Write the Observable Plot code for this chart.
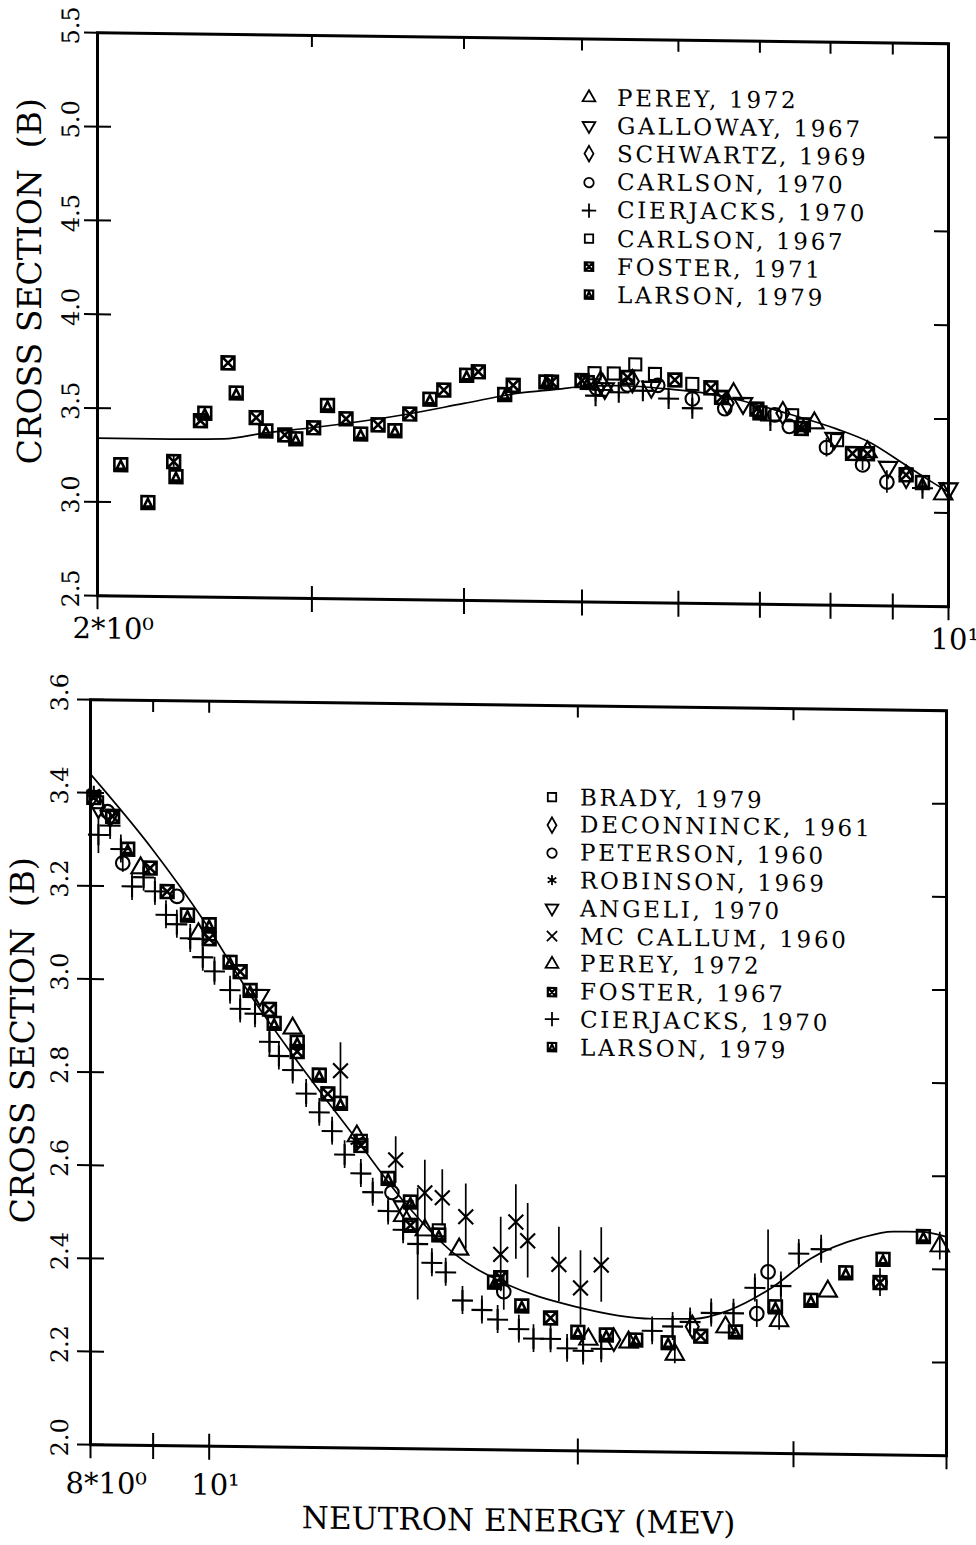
<!DOCTYPE html>
<html><head><meta charset="utf-8">
<script src="https://cdn.jsdelivr.net/npm/d3@7"></script>
<script src="https://cdn.jsdelivr.net/npm/@observablehq/plot@0.6"></script>
<style>
body{margin:0;background:#fff;}
#page{position:relative;width:976px;height:1545px;font-family:"DejaVu Serif",serif;transform:skewY(0.74deg);transform-origin:0 0;overflow:visible;}
.panel{position:absolute;left:0;}
.leg{position:absolute;height:26px;display:flex;align-items:center;white-space:pre;font-size:23px;line-height:1;letter-spacing:2.7px;color:#000;}
.leg span{margin-left:20px;}
</style></head><body><div id="page"></div>
<script>
// ---------------- TOP PANEL DATA (energy MeV, cross section b, error) ----------------
const topLegend = ["PEREY, 1972","GALLOWAY, 1967","SCHWARTZ, 1969","CARLSON, 1970","CIERJACKS, 1970","CARLSON, 1967","FOSTER, 1971","LARSON, 1979"];
const topPerey = [[5.20,3.66],[6.66,3.62],[7.76,3.47],[8.58,3.32],[9.90,3.10]];
const topGalloway = [[5.22,3.64],[5.70,3.65],[6.78,3.57],[8.06,3.39],[8.92,3.24],[10.0,3.13]];
const topSchwartz = [[5.18,3.67],[5.50,3.68],[6.58,3.57],[7.31,3.52],[9.23,3.19]];
const topCarlson70 = [[5.14,3.64],[5.45,3.66],[5.77,3.66],[6.16,3.59,0.03],[6.55,3.54],[7.20,3.51],[7.40,3.45],[7.94,3.34,0.05],[8.50,3.25,0.03],[8.90,3.16,0.06]];
const topCierjacks = [[5.13,3.60,0.03],[5.36,3.62,0.03],[5.61,3.63,0.03],[5.89,3.59,0.03],[6.16,3.54,0.03],[7.14,3.48,0.03],[9.52,3.13,0.03]];
const topCarlson67 = [[5.12,3.72],[5.31,3.72],[5.53,3.77],[5.74,3.72],[6.16,3.67],[7.44,3.51],[8.10,3.38]];
const topFoster = [[2.31,3.22,0.03],[2.43,3.44],[2.56,3.75],[2.70,3.46],[2.85,3.37],[3.01,3.41],[3.20,3.46],[3.40,3.43],[3.61,3.49],[3.85,3.62],[4.11,3.72],[4.39,3.65],[4.72,3.67],[5.00,3.68],[5.45,3.70],[5.96,3.69],[6.38,3.65],[6.51,3.60],[6.96,3.54],[7.57,3.44],[8.34,3.31],[8.58,3.31],[9.23,3.20]];
const topLarson = [[2.09,3.20],[2.20,3.00],[2.32,3.14],[2.45,3.48],[2.60,3.59],[2.75,3.39],[2.91,3.35],[3.09,3.53],[3.29,3.38],[3.51,3.40],[3.75,3.57],[4.02,3.70],[4.32,3.60],[4.67,3.67],[5.05,3.67],[7.00,3.52],[7.60,3.46],[9.52,3.16]];
const topCurveE = [2,2.3,2.54,2.75,3.0,3.6,4.0,4.45,4.74,5.05,5.38,5.91,6.25,6.7,7.36,8.09,8.62,9.18,9.6,10];
const topCurveS = [3.34,3.34,3.345,3.38,3.41,3.49,3.55,3.61,3.63,3.65,3.655,3.64,3.625,3.59,3.52,3.44,3.37,3.26,3.18,3.11];
const topXTicks = [2,3,4,5,6,7,8,9,10];
const topXLabels = [[2,"2*10⁰"],[10,"10¹"]];
const topYTicks = [2.5,3.0,3.5,4.0,4.5,5.0,5.5];
const topYLabels = ["2.5","3.0","3.5","4.0","4.5","5.0","5.5"];

// ---------------- BOTTOM PANEL DATA ----------------
const botLegend = ["BRADY, 1979","DECONNINCK, 1961","PETERSON, 1960","ROBINSON, 1969","ANGELI, 1970","MC CALLUM, 1960","PEREY, 1972","FOSTER, 1967","CIERJACKS, 1970","LARSON, 1979"];
const botBrady = [[8.10,3.38],[10.0,3.10],[13.3,2.66],[15.4,2.47]];
const botDeconninck = [[8.12,3.37],[21.4,2.24],[24.8,2.27]];
const botPeterson = [[8.26,3.36],[8.50,3.25,0.02],[9.41,3.18],[14.1,2.55],[17.4,2.34,0.04],[28.0,2.30,0.03],[28.6,2.39,0.09],[35.3,2.37,0.03]];
const botRobinson = [[8.05,3.40],[13.2,2.66]];
const botAngeli = [[8.30,3.35],[11.0,2.97],[14.4,2.52]];
const botMcCallum = [[12.8,2.81,0.06],[14.2,2.62,0.05],[15.0,2.55,0.07],[15.5,2.54,0.06],[16.2,2.50,0.07],[17.3,2.42,0.08],[17.8,2.49,0.08],[18.2,2.45,0.08],[19.3,2.40,0.08],[20.1,2.35,0.08],[20.9,2.40,0.08]];
const botPerey = [[8.79,3.24],[9.80,3.10],[11.7,2.90],[13.2,2.67],[14.4,2.50],[15.0,2.47],[16.0,2.43],[20.4,2.24],[22.0,2.235],[24.0,2.21,0.02],[26.4,2.27],[29.2,2.285,0.02],[32.0,2.35],[39.5,2.45,0.03]];
const botFoster = [[8.05,3.39],[8.34,3.35],[8.95,3.24],[9.24,3.19],[10.0,3.09],[10.6,3.02],[11.2,2.94],[11.8,2.85],[12.5,2.76],[13.3,2.65],[14.6,2.48],[17.3,2.37],[19.0,2.285],[25.2,2.25],[35.3,2.37]];
const botCierjacks = [[8.12,3.31,0.04],[8.30,3.33,0.03],[8.47,3.28,0.03],[8.65,3.20,0.03],[8.84,3.22,0.03],[9.03,3.19,0.03],[9.22,3.14,0.03],[9.41,3.12,0.03],[9.65,3.09,0.03],[9.88,3.05,0.03],[10.1,3.02,0.03],[10.4,2.98,0.03],[10.6,2.94,0.03],[10.9,2.93,0.03],[11.2,2.87,0.03],[11.4,2.84,0.03],[11.7,2.81,0.03],[12.0,2.76,0.03],[12.3,2.72,0.03],[12.6,2.68,0.03],[12.9,2.63,0.03],[13.3,2.59,0.03],[13.6,2.55,0.03],[14.0,2.51,0.03],[14.4,2.47,0.03],[14.8,2.44,0.12],[15.2,2.40,0.03],[15.6,2.38,0.03],[16.1,2.32,0.03],[16.7,2.30,0.03],[17.2,2.28,0.03],[17.9,2.26,0.03],[18.4,2.24,0.03],[19.0,2.24,0.03],[19.6,2.22,0.03],[20.2,2.215,0.03],[20.9,2.22,0.03],[23.0,2.26,0.03],[23.9,2.27,0.03],[24.7,2.28,0.03],[25.7,2.30,0.03],[26.8,2.30,0.03],[27.9,2.355,0.03],[29.3,2.36,0.03],[30.3,2.43,0.03],[31.6,2.44,0.03]];
const botLarson = [[8.58,3.28],[9.60,3.14],[10.0,3.12],[10.4,3.04],[10.8,2.98],[11.3,2.91],[11.8,2.87],[12.3,2.80],[12.8,2.74],[14.0,2.58],[14.6,2.53],[15.4,2.46],[17.1,2.36],[18.0,2.31],[20.0,2.255],[21.1,2.25],[22.3,2.24],[23.7,2.235],[26.9,2.26],[29.0,2.315],[31.0,2.33],[33.1,2.39],[35.5,2.42],[38.3,2.47]];
const botCurveE = [8,8.99,9.89,10.87,11.72,13.13,14.43,15.86,17.36,19.9,23.0,24.9,26.5,28.8,31.0,34.1,36.2,38.1,40];
const botCurveS = [3.44,3.28,3.13,2.96,2.84,2.67,2.53,2.42,2.36,2.31,2.286,2.287,2.305,2.356,2.42,2.466,2.48,2.48,2.47];
const botXTicks = [8,9,10,20,30,40];
const botXLabels = [[8,"8*10⁰"],[10,"10¹"]];
const botYTicks = [2.0,2.2,2.4,2.6,2.8,3.0,3.2,3.4,3.6];
const botYLabels = ["2.0","2.2","2.4","2.6","2.8","3.0","3.2","3.4","3.6"];

const yTitle = "CROSS SECTION\u00a0\u00a0(B)";
const xTitle = "NEUTRON ENERGY (MEV)";

// ---------------- SYMBOLS ----------------
const sqrt3 = Math.sqrt(3);
const triangleDown = {draw(c, size){const y = -Math.sqrt(size/(sqrt3*3)); c.moveTo(0,-2*y); c.lineTo(-sqrt3*y,y); c.lineTo(sqrt3*y,y); c.closePath();}};
function sq(c,r){c.moveTo(-r,-r);c.lineTo(r,-r);c.lineTo(r,r);c.lineTo(-r,r);c.closePath();}
const squareX = {draw(c,size){const r=Math.sqrt(size)/2; sq(c,r); c.moveTo(-r,-r);c.lineTo(r,r);c.moveTo(r,-r);c.lineTo(-r,r);}};
const squareTri = {draw(c,size){const r=Math.sqrt(size)/2; sq(c,r); const t=r*0.62; c.moveTo(-t,t);c.lineTo(0,-t);c.lineTo(t,t);c.closePath();}};

const topSeries = [
  {data: topPerey, symbol: d3.symbolTriangle},
  {data: topGalloway, symbol: triangleDown},
  {data: topSchwartz, symbol: d3.symbolDiamond},
  {data: topCarlson70, symbol: d3.symbolCircle},
  {data: topCierjacks, symbol: d3.symbolPlus},
  {data: topCarlson67, symbol: d3.symbolSquare},
  {data: topFoster, symbol: squareX, heavy: true},
  {data: topLarson, symbol: squareTri, heavy: true}
];
const botSeries = [
  {data: botBrady, symbol: d3.symbolSquare},
  {data: botDeconninck, symbol: d3.symbolDiamond},
  {data: botPeterson, symbol: d3.symbolCircle},
  {data: botRobinson, symbol: d3.symbolAsterisk},
  {data: botAngeli, symbol: triangleDown},
  {data: botMcCallum, symbol: d3.symbolTimes},
  {data: botPerey, symbol: d3.symbolTriangle},
  {data: botFoster, symbol: squareX, heavy: true},
  {data: botCierjacks, symbol: d3.symbolPlus},
  {data: botLarson, symbol: squareTri, heavy: true}
];

function makePanel(cfg){
  const W = 976 - cfg.ml - cfg.mr, H = cfg.height - cfg.mt - cfg.mb;
  const marks = [];
  marks.push(Plot.line(cfg.curveE.map((e,i)=>[e,cfg.curveS[i]]), {x:d=>d[0], y:d=>d[1], curve:"monotone-x", strokeWidth:1.7}));
  for (const s of cfg.series){
    const err = s.data.filter(d=>d[2]);
    if (err.length) marks.push(Plot.ruleX(err, {x:d=>d[0], y1:d=>d[1]-d[2], y2:d=>d[1]+d[2], strokeWidth:1.7}));
    marks.push(Plot.dot(s.data, {x:d=>d[0], y:d=>d[1], symbol:s.symbol, r:s.heavy ? 7.2 : 6.8, stroke:"black", strokeWidth:s.heavy ? 2.6 : 2.1, fill:"none"}));
  }
  marks.push(Plot.frame({strokeWidth:3}));
  marks.push(Plot.tickY(cfg.yTicks, {y:d=>d, insetLeft:-13, insetRight:W-14, strokeWidth:2}));
  marks.push(Plot.tickY(cfg.yTicks, {y:d=>d, insetLeft:W-14, strokeWidth:2}));
  marks.push(Plot.tickX(cfg.xTicks, {x:d=>d, insetBottom:H-12, strokeWidth:2}));
  marks.push(Plot.tickX(cfg.xTicks, {x:d=>d, insetTop:H-12, insetBottom:-14, strokeWidth:2}));
  marks.push(Plot.text(cfg.yTicks, {y:d=>d, text:(d,i)=>cfg.yLabels[i], frameAnchor:"left", dx:cfg.yLabelDx, dy:-7, rotate:-90, fontSize:24, textAnchor:"middle"}));
  marks.push(Plot.text(cfg.xLabels, {x:d=>d[0], text:d=>d[1], frameAnchor:"bottom", lineAnchor:"top", dy:cfg.xLabelDy, textAnchor:"start", fontSize:29}));
  marks.push(Plot.text([yTitle], {frameAnchor:"left", dx:-67, dy:cfg.yTitleDy, rotate:-90, fontSize:33, textAnchor:"middle"}));
  if (cfg.xTitle) marks.push(Plot.text([cfg.xTitle], {frameAnchor:"bottom", dy:cfg.xTitleDy, fontSize:31, lineAnchor:"middle", ariaLabel:"xtitle"}));
  const svg = Plot.plot({
    width:976, height:cfg.height,
    marginTop:cfg.mt, marginLeft:cfg.ml, marginRight:cfg.mr, marginBottom:cfg.mb,
    x:{type:"log", domain:cfg.xDomain, axis:null},
    y:{domain:cfg.yDomain, axis:null},
    style:{fontFamily:"DejaVu Serif", background:"transparent", overflow:"visible", color:"black"},
    marks
  });
  d3.select(svg).selectAll("text").each(function(){
    const t = this.textContent;
    if (t === "2*10⁰" || t === "8*10⁰") this.setAttribute("dx", "-25");
    if (t === "10¹") this.setAttribute("dx", "-18");
  });
  d3.select(svg).selectAll('g[aria-label="xtitle"] text').style("letter-spacing","3px");
  return svg;
}

const pageEl = document.getElementById("page");

const topSvg = makePanel({height:650, mt:31, mb:56, ml:97, mr:28, xDomain:[2,10], yDomain:[2.5,5.5],
  xTicks:topXTicks, yTicks:topYTicks, yLabels:topYLabels, xLabels:topXLabels,
  curveE:topCurveE, curveS:topCurveS, series:topSeries, yLabelDx:-26, xLabelDy:22, yTitleDy:-32});
const topDiv = document.createElement("div"); topDiv.className="panel"; topDiv.style.top="0px"; topDiv.appendChild(topSvg); pageEl.appendChild(topDiv);

const botSvg = makePanel({height:895, mt:48, mb:102, ml:90, mr:30, xDomain:[8,40], yDomain:[2.0,3.6],
  xTicks:botXTicks, yTicks:botYTicks, yLabels:botYLabels, xLabels:botXLabels,
  curveE:botCurveE, curveS:botCurveS, series:botSeries, yLabelDx:-30, xLabelDy:28, yTitleDy:-31,
  xTitle:xTitle, xTitleDy:71});
const botDiv = document.createElement("div"); botDiv.className="panel"; botDiv.style.top="650px"; botDiv.appendChild(botSvg); pageEl.appendChild(botDiv);

function legend(labels, series, symX, y0, step){
  labels.forEach((lab,i)=>{
    const row = document.createElement("div");
    row.className = "leg";
    row.style.left = (symX-8)+"px";
    row.style.top = (y0 + step*i - 13)+"px";
    const p = d3.symbol().type(series[i].symbol).size(70)();
    row.innerHTML = `<svg width="16" height="16" style="overflow:visible"><path transform="translate(8,8)" d="${p}" fill="none" stroke="black" stroke-width="${series[i].heavy ? 2.2 : 1.8}"/></svg><span>${lab}</span>`;
    pageEl.appendChild(row);
  });
}
legend(topLegend, topSeries, 589, 90, 28.2);
legend(botLegend, botSeries, 552, 790, 27.8);
</script></body></html>
